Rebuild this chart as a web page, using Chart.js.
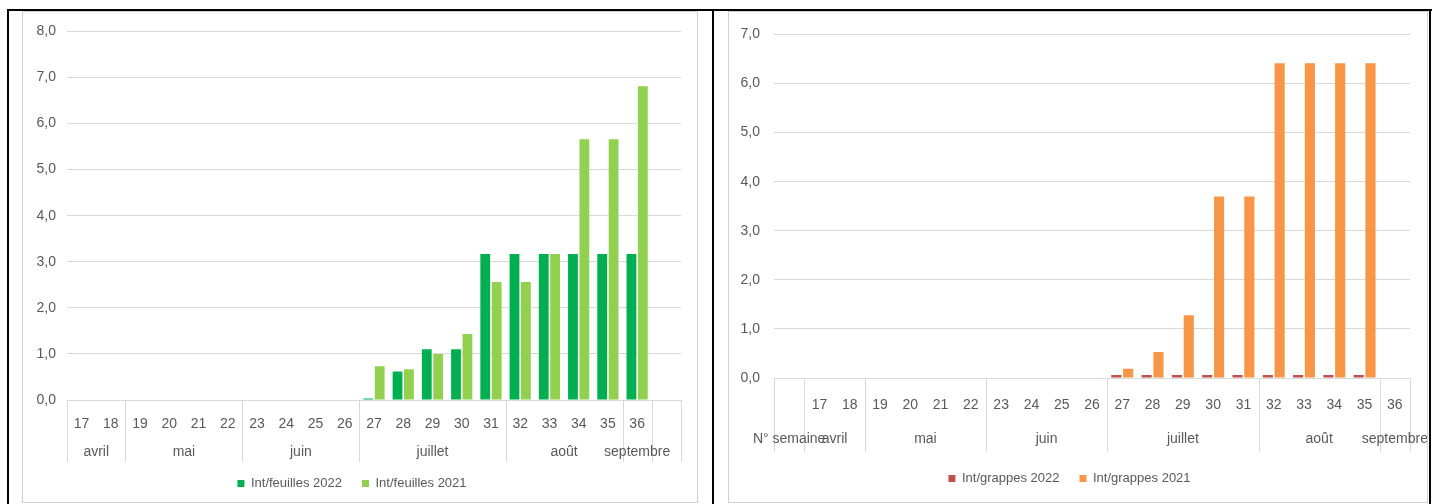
<!DOCTYPE html>
<html lang="fr">
<head>
<meta charset="utf-8">
<title>Int/feuilles - Int/grappes</title>
<script src="https://cdn.jsdelivr.net/npm/chart.js@4.4.1/dist/chart.umd.min.js"></script>
<style>
    body { margin: 0; width: 1432px; height: 504px; background: #fff; position: relative; overflow: hidden; }
    .line { position: absolute; background: #000; }
    .frame { position: absolute; box-sizing: border-box; border: 1px solid #d0d0d0; background: #fff; }
    .frame canvas { display: block; }
</style>
</head>
<body>
<div class="line" style="left:7px;top:9px;width:1425px;height:2px"></div>
<div class="line" style="left:7px;top:9px;width:2px;height:495px"></div>
<div class="line" style="left:712px;top:9px;width:2px;height:495px"></div>
<div class="line" style="left:1429px;top:9px;width:2px;height:495px"></div>

<div class="frame" style="left:22px;top:11px;width:676px;height:492px">
    <canvas id="feuillesChart" width="674" height="490"></canvas>
</div>
<div class="frame" style="left:728px;top:11px;width:700px;height:492px">
    <canvas id="grappesChart" width="698" height="490"></canvas>
</div>

<script>
// left chart: intensity on leaves
const feuillesWeeks = ['17', '18', '19', '20', '21', '22', '23', '24', '25', '26', '27', '28', '29', '30', '31', '32', '33', '34', '35', '36', ''];
const feuillesMonths = ['avril', 'mai', 'juin', 'juillet', 'août', 'septembre', ''];
const feuillesMonthSpans = [2, 4, 4, 5, 4, 1, 1];
const feuilles2022 = [0, 0, 0, 0, 0, 0, 0, 0, 0, 0, 0.03, 0.62, 1.1, 1.1, 3.17, 3.17, 3.17, 3.17, 3.17, 3.17, 0];
const feuilles2021 = [0, 0, 0, 0, 0, 0, 0, 0, 0, 0, 0.73, 0.67, 1.0, 1.43, 2.56, 2.56, 3.17, 5.66, 5.66, 6.81, 0];

// right chart: intensity on bunches
const grappesWeeks = ['', '17', '18', '19', '20', '21', '22', '23', '24', '25', '26', '27', '28', '29', '30', '31', '32', '33', '34', '35', '36'];
const grappesMonths = ['N° semaine', 'avril', 'mai', 'juin', 'juillet', 'août', 'septembre'];
const grappesMonthSpans = [1, 2, 4, 4, 5, 4, 1];
const grappes2022 = [0, 0, 0, 0, 0, 0, 0, 0, 0, 0, 0, 0.06, 0.06, 0.06, 0.06, 0.06, 0.06, 0.06, 0.06, 0.06, 0];
const grappes2021 = [0, 0, 0, 0, 0, 0, 0, 0, 0, 0, 0, 0.19, 0.53, 1.28, 3.70, 3.70, 6.41, 6.41, 6.41, 6.41, 0];

const gridColor = '#d9d9d9';
const textColor = '#595959';
const fontFamily = '"Liberation Sans", Arial, sans-serif';

// draws the second level of the category axis (months) and its separators
const monthRow = {
    id: 'monthRow',
    afterDraw: function (chart, args, opts) {
        const xScale = chart.scales.x;
        const ctx = chart.ctx;
        const axisY = chart.chartArea.bottom;
        const half = (xScale.getPixelForValue(1) - xScale.getPixelForValue(0)) / 2;
        ctx.save();
        ctx.strokeStyle = gridColor;
        ctx.lineWidth = 1;
        ctx.fillStyle = textColor;
        ctx.font = '14px ' + fontFamily;
        ctx.textAlign = 'center';
        ctx.textBaseline = 'middle';

        let start = 0;
        let x0 = xScale.getPixelForValue(0) - half;
        separator(ctx, x0, axisY, axisY + opts.lineLength);
        opts.months.forEach(function (name, i) {
            let end = start + opts.spans[i];
            let x1 = xScale.getPixelForValue(end - 1) + half;
            separator(ctx, x1, axisY, axisY + opts.lineLength);
            ctx.fillText(name, (x0 + x1) / 2, axisY + opts.labelOffset);
            x0 = x1;
            start = end;
        });
        ctx.restore();
    }
};

function separator(ctx, x, y0, y1) {
    x = Math.round(x) + 0.5;
    ctx.beginPath();
    ctx.moveTo(x, y0);
    ctx.lineTo(x, y1);
    ctx.stroke();
}

function makeChart(canvasId, cfg) {
    const datasets = cfg.series.map(function (s) {
        return {
            label: s.label,
            data: s.data,
            backgroundColor: s.color,
            borderWidth: 0,
            categoryPercentage: 0.78,
            barPercentage: 0.86
        };
    });

    return new Chart(document.getElementById(canvasId), {
        type: 'bar',
        data: {labels: cfg.weeks, datasets: datasets},
        plugins: [monthRow],
        options: {
            responsive: false,
            animation: false,
            layout: {padding: cfg.padding},
            plugins: {
                tooltip: {enabled: false},
                legend: {
                    position: 'bottom',
                    labels: {
                        boxWidth: 7,
                        boxHeight: 7,
                        padding: 20,
                        color: textColor,
                        font: {family: fontFamily, size: 13}
                    }
                },
                monthRow: {
                    months: cfg.months,
                    spans: cfg.spans,
                    labelOffset: cfg.monthOffset,
                    lineLength: cfg.lineLength
                }
            },
            scales: {
                x: {
                    grid: {display: false},
                    border: {display: true, color: gridColor},
                    ticks: {
                        color: textColor,
                        font: {family: fontFamily, size: 14},
                        padding: cfg.weekPadding,
                        autoSkip: false,
                        maxRotation: 0
                    },
                    afterFit: function (scale) { scale.height = cfg.xHeight; }
                },
                y: {
                    min: 0,
                    max: cfg.yMax,
                    grid: {color: gridColor, drawTicks: false},
                    border: {display: false},
                    ticks: {
                        stepSize: 1,
                        color: textColor,
                        padding: cfg.yPadding,
                        font: {family: fontFamily, size: 14},
                        callback: function (v) { return v.toFixed(1).replace('.', ','); }
                    },
                    afterFit: function (scale) { scale.width = cfg.yWidth; }
                }
            }
        }
    });
}

makeChart('feuillesChart', {
    weeks: feuillesWeeks,
    months: feuillesMonths,
    spans: feuillesMonthSpans,
    series: [
        {label: 'Int/feuilles 2022', data: feuilles2022, color: '#00b050'},
        {label: 'Int/feuilles 2021', data: feuilles2021, color: '#92d050'}
    ],
    yMax: 8,
    padding: {top: 16, right: 16, bottom: 2, left: 0},
    yWidth: 44,
    yPadding: 11,
    xHeight: 57,
    weekPadding: 8,
    monthOffset: 52,
    lineLength: 62
});

makeChart('grappesChart', {
    weeks: grappesWeeks,
    months: grappesMonths,
    spans: grappesMonthSpans,
    series: [
        {label: 'Int/grappes 2022', data: grappes2022, color: '#c0504d'},
        {label: 'Int/grappes 2021', data: grappes2021, color: '#f79646'}
    ],
    yMax: 7,
    padding: {top: 20, right: 17, bottom: 7, left: 0},
    yWidth: 45,
    yPadding: 14,
    xHeight: 74,
    weekPadding: 11,
    monthOffset: 61,
    lineLength: 74
});
</script>
</body>
</html>
